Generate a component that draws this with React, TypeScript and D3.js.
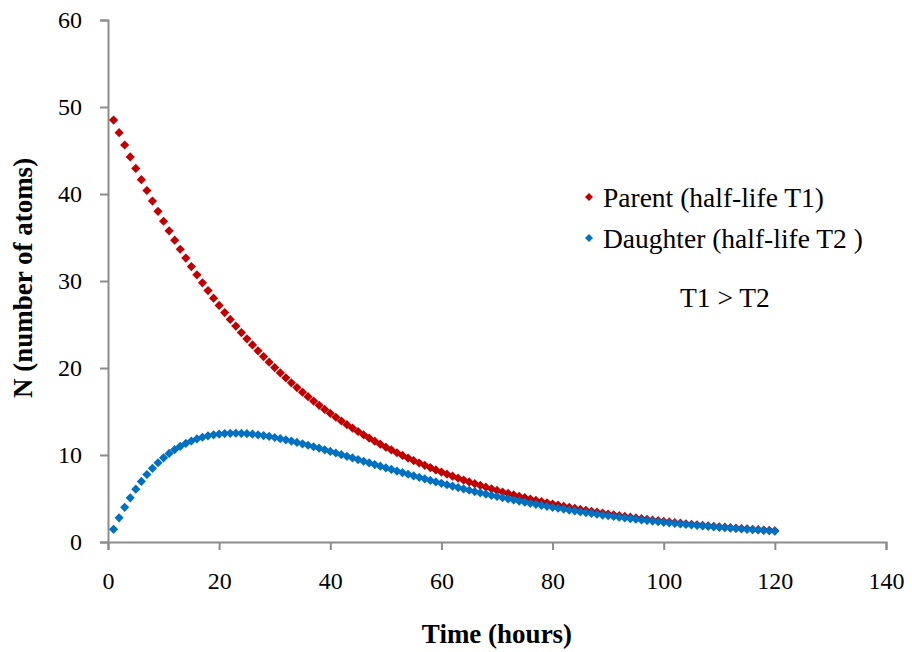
import { useEffect, useRef } from 'react'
import * as d3 from 'd3'

// ── data ────────────────────────────────────────────────────────────────────
const HOURS = [
  1, 2, 3, 4, 5, 6, 7, 8, 9, 10, 11, 12, 13, 14, 15, 16, 17, 18, 19, 20,
  21, 22, 23, 24, 25, 26, 27, 28, 29, 30, 31, 32, 33, 34, 35, 36, 37, 38, 39, 40,
  41, 42, 43, 44, 45, 46, 47, 48, 49, 50, 51, 52, 53, 54, 55, 56, 57, 58, 59, 60,
  61, 62, 63, 64, 65, 66, 67, 68, 69, 70, 71, 72, 73, 74, 75, 76, 77, 78, 79, 80,
  81, 82, 83, 84, 85, 86, 87, 88, 89, 90, 91, 92, 93, 94, 95, 96, 97, 98, 99, 100,
  101, 102, 103, 104, 105, 106, 107, 108, 109, 110, 111, 112, 113, 114, 115, 116, 117, 118, 119, 120,
]

const PARENT = [
  48.50, 47.05, 45.63, 44.26, 42.94, 41.65, 40.40, 39.19, 38.01, 36.87,
  35.77, 34.69, 33.65, 32.64, 31.66, 30.71, 29.79, 28.90, 28.03, 27.19,
  26.37, 25.58, 24.82, 24.07, 23.35, 22.65, 21.97, 21.31, 20.67, 20.05,
  19.45, 18.87, 18.30, 17.75, 17.22, 16.70, 16.20, 15.71, 15.24, 14.79,
  14.34, 13.91, 13.49, 13.09, 12.70, 12.32, 11.95, 11.59, 11.24, 10.90,
  10.58, 10.26, 9.95, 9.65, 9.36, 9.08, 8.81, 8.55, 8.29, 8.04,
  7.80, 7.57, 7.34, 7.12, 6.90, 6.70, 6.50, 6.30, 6.11, 5.93,
  5.75, 5.58, 5.41, 5.25, 5.09, 4.94, 4.79, 4.65, 4.51, 4.37,
  4.24, 4.11, 3.99, 3.87, 3.75, 3.64, 3.53, 3.43, 3.32, 3.22,
  3.13, 3.03, 2.94, 2.85, 2.77, 2.69, 2.61, 2.53, 2.45, 2.38,
  2.31, 2.24, 2.17, 2.10, 2.04, 1.98, 1.92, 1.86, 1.81, 1.75,
  1.70, 1.65, 1.60, 1.55, 1.51, 1.46, 1.42, 1.37, 1.33, 1.29,
]

const DAUGHTER = [
  1.46, 2.78, 3.99, 5.08, 6.07, 6.96, 7.76, 8.47, 9.11, 9.68,
  10.18, 10.62, 11.00, 11.33, 11.61, 11.85, 12.04, 12.20, 12.32, 12.40,
  12.46, 12.49, 12.50, 12.48, 12.45, 12.39, 12.32, 12.23, 12.13, 12.01,
  11.88, 11.75, 11.60, 11.45, 11.29, 11.12, 10.95, 10.78, 10.60, 10.41,
  10.23, 10.04, 9.85, 9.66, 9.47, 9.28, 9.09, 8.90, 8.71, 8.53,
  8.34, 8.15, 7.97, 7.79, 7.61, 7.43, 7.26, 7.08, 6.91, 6.75,
  6.58, 6.42, 6.26, 6.10, 5.95, 5.80, 5.65, 5.51, 5.37, 5.23,
  5.09, 4.96, 4.83, 4.70, 4.57, 4.45, 4.33, 4.22, 4.10, 3.99,
  3.88, 3.78, 3.67, 3.57, 3.47, 3.38, 3.28, 3.19, 3.10, 3.02,
  2.93, 2.85, 2.77, 2.69, 2.62, 2.54, 2.47, 2.40, 2.33, 2.26,
  2.20, 2.14, 2.08, 2.02, 1.96, 1.90, 1.85, 1.79, 1.74, 1.69,
  1.64, 1.60, 1.55, 1.50, 1.46, 1.42, 1.38, 1.34, 1.30, 1.26,
]

const X_TICKS = [0, 20, 40, 60, 80, 100, 120, 140]
const Y_TICKS = [0, 10, 20, 30, 40, 50, 60]

const SERIES = [
  { name: 'Parent (half-life T1)', values: PARENT, color: '#C00000' },
  { name: 'Daughter (half-life T2 )', values: DAUGHTER, color: '#0070C0' },
]

// ── constants ────────────────────────────────────────────────────────────────
const W = 912
const H = 652
const PLOT = { left: 108, right: 886, top: 20, bottom: 542 }
const C_AXIS = '#8c8c8c'
const FONT = "'Liberation Serif', 'Times New Roman', Tinos, serif"

const diamond = (r: number) => `M0,${-r}L${r},0L0,${r}L${-r},0Z`

export default function App() {
  const ref = useRef<SVGSVGElement>(null)

  useEffect(() => {
    if (!ref.current) return
    const svg = d3.select(ref.current)
    svg.selectAll('*').remove()

    const x = d3.scaleLinear().domain([0, 140]).range([PLOT.left, PLOT.right])
    const y = d3.scaleLinear().domain([0, 60]).range([PLOT.bottom, PLOT.top])

    // ── axes ───────────────────────────────────────────────────────────────
    const yAxis = svg.append('g')
      .attr('transform', `translate(${PLOT.left},0)`)
      .call(d3.axisLeft(y).tickValues(Y_TICKS).tickSizeOuter(0).tickSize(8).tickPadding(18))
    const xAxis = svg.append('g')
      .attr('transform', `translate(0,${PLOT.bottom})`)
      .call(d3.axisBottom(x).tickValues(X_TICKS).tickSizeOuter(0).tickSize(8).tickPadding(22))

    for (const ax of [xAxis, yAxis]) {
      ax.select('.domain').attr('stroke', C_AXIS).attr('stroke-width', 2)
      ax.selectAll('line').attr('stroke', C_AXIS).attr('stroke-width', 2)
      ax.selectAll('text').attr('fill', '#000').attr('font-family', FONT).attr('font-size', 24)
    }
    yAxis.selectAll('text').attr('dy', '0.32em')

    // ── markers ─────────────────────────────────────────────────────────────
    SERIES.forEach(s => {
      svg.append('g')
        .selectAll('path')
        .data(s.values)
        .join('path')
          .attr('d', diamond(4.6))
          .attr('fill', s.color)
          .attr('transform', (v, i) => `translate(${x(HOURS[i])},${y(v)})`)
    })

    // ── legend ─────────────────────────────────────────────────────────────
    const lg = svg.append('g')
    SERIES.forEach((s, i) => {
      const ly = 197 + i * 41
      lg.append('path').attr('d', diamond(4)).attr('fill', s.color)
        .attr('transform', `translate(589,${ly})`)
      lg.append('text')
        .attr('x', 603).attr('y', ly + 10)
        .attr('font-family', FONT).attr('font-size', 27.5)
        .text(s.name)
    })
    svg.append('text')
      .attr('x', 680).attr('y', 307)
      .attr('font-family', FONT).attr('font-size', 27.5)
      .text('T1 > T2')

    // ── axis titles ─────────────────────────────────────────────────────────
    svg.append('text')
      .attr('x', 497).attr('y', 643)
      .attr('text-anchor', 'middle')
      .attr('font-family', FONT).attr('font-size', 27).attr('font-weight', 'bold')
      .text('Time (hours)')
    svg.append('text')
      .attr('transform', `translate(32,278) rotate(-90)`)
      .attr('text-anchor', 'middle')
      .attr('font-family', FONT).attr('font-size', 27).attr('font-weight', 'bold')
      .text('N (number of atoms)')
  }, [])

  return (
    <div style={{ position: 'absolute', left: 0, top: 0 }}>
      <svg ref={ref} width={W} height={H} style={{ display: 'block', background: '#fff' }} />
    </div>
  )
}
